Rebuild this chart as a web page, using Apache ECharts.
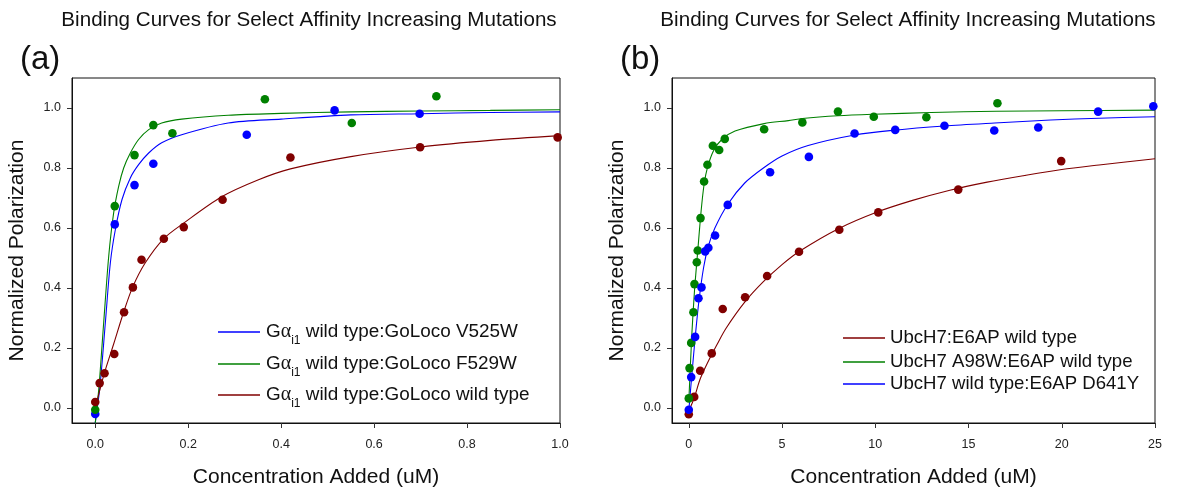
<!DOCTYPE html>
<html>
<head>
<meta charset="utf-8">
<script src="https://cdn.jsdelivr.net/npm/echarts@6/dist/echarts.min.js"></script>
<style>
html,body{margin:0;padding:0;background:#fff;}
#chart{width:1182px;height:495px;}
</style>
</head>
<body>
<div id="chart"></div>
<script>
// ---- Panel (a) data points ----
var aBlueX  = [0, 0.042, 0.0845, 0.125, 0.326, 0.515, 0.698];
var aBlueY  = [-0.02, 0.612, 0.743, 0.814, 0.911, 0.992, 0.981];
var aGreenX = [0, 0.042, 0.0845, 0.125, 0.166, 0.365, 0.552, 0.734];
var aGreenY = [-0.006, 0.673, 0.843, 0.943, 0.916, 1.029, 0.950, 1.039];
var aRedX   = [0, 0.0095, 0.0200, 0.041, 0.062, 0.081, 0.0996, 0.1476, 0.1905, 0.274, 0.420, 0.699, 0.995];
var aRedY   = [0.020, 0.083, 0.116, 0.180, 0.319, 0.402, 0.494, 0.564, 0.603, 0.694, 0.835, 0.869, 0.902];
// ---- Panel (a) fitted curves ----
var aBlueCurveX  = [0, 0.01, 0.0218, 0.0326, 0.0433, 0.0576, 0.0755, 0.0933, 0.115, 0.143, 0.186, 0.286, 0.4, 0.55, 0.7, 0.85, 1.0];
var aBlueCurveY  = [-0.05, 0.07, 0.285, 0.485, 0.595, 0.695, 0.767, 0.811, 0.850, 0.884, 0.911, 0.950, 0.963, 0.977, 0.981, 0.985, 0.987];
var aGreenCurveX = [0, 0.008, 0.0182, 0.029, 0.0397, 0.0504, 0.0612, 0.0755, 0.0933, 0.115, 0.143, 0.186, 0.286, 0.4, 0.55, 0.7, 0.85, 1.0];
var aGreenCurveY = [-0.05, 0.07, 0.285, 0.506, 0.651, 0.739, 0.800, 0.850, 0.895, 0.928, 0.950, 0.963, 0.976, 0.982, 0.987, 0.990, 0.992, 0.994];
var aRedCurveX   = [0, 0.0197, 0.04, 0.0612, 0.0805, 0.1077, 0.147, 0.191, 0.272, 0.35, 0.42, 0.55, 0.7, 0.85, 1.0];
var aRedCurveY   = [0.0, 0.116, 0.215, 0.320, 0.403, 0.484, 0.564, 0.617, 0.704, 0.760, 0.797, 0.838, 0.870, 0.892, 0.908];

// ---- Panel (b) data points ----
var bRedX   = [0, 0.29, 0.61, 1.23, 1.82, 3.02, 4.2, 5.91, 8.07, 10.16, 14.45, 19.97];
var bRedY   = [-0.021, 0.037, 0.124, 0.182, 0.330, 0.369, 0.440, 0.521, 0.594, 0.652, 0.728, 0.823];
var bGreenX = [0, 0.04, 0.13, 0.25, 0.305, 0.43, 0.48, 0.63, 0.82, 1.0, 1.29, 1.63, 1.93, 4.04, 6.09, 8.0, 9.92, 12.74, 16.55];
var bGreenY = [0.032, 0.133, 0.217, 0.319, 0.413, 0.486, 0.525, 0.633, 0.755, 0.811, 0.874, 0.860, 0.897, 0.929, 0.952, 0.988, 0.971, 0.969, 1.016];
var bBlueX  = [0, 0.13, 0.34, 0.52, 0.68, 0.88, 1.05, 1.41, 2.09, 4.36, 6.44, 8.89, 11.07, 13.71, 16.38, 18.74, 21.95, 24.91];
var bBlueY  = [-0.006, 0.103, 0.237, 0.366, 0.402, 0.522, 0.534, 0.575, 0.677, 0.786, 0.837, 0.915, 0.927, 0.941, 0.925, 0.935, 0.988, 1.006];
// ---- Panel (b) fitted curves ----
var bRedCurveX   = [0, 0.3, 0.6, 1.0, 1.5, 2, 3, 4, 5, 6, 8, 10, 12, 14, 16, 18, 20, 22, 25];
var bRedCurveY   = [-0.01, 0.035, 0.095, 0.15, 0.21, 0.266, 0.353, 0.421, 0.478, 0.525, 0.597, 0.651, 0.692, 0.726, 0.753, 0.775, 0.795, 0.81, 0.831];
var bGreenCurveX = [0, 0.16, 0.305, 0.48, 0.66, 0.82, 1.0, 1.32, 1.77, 2.48, 4.04, 5.34, 6.09, 8, 9.9, 13, 16.5, 20, 25];
var bGreenCurveY = [0.02, 0.241, 0.39, 0.523, 0.656, 0.745, 0.801, 0.857, 0.895, 0.923, 0.948, 0.958, 0.965, 0.974, 0.979, 0.985, 0.989, 0.991, 0.993];
var bBlueCurveX  = [0, 0.15, 0.35, 0.55, 0.8, 1.05, 1.4, 2.1, 3, 4, 5, 6.4, 8.9, 11, 13.7, 16.4, 19.4, 22, 25];
var bBlueCurveY  = [-0.01, 0.10, 0.24, 0.36, 0.47, 0.54, 0.60, 0.68, 0.75, 0.80, 0.84, 0.875, 0.91, 0.926, 0.94, 0.95, 0.96, 0.966, 0.971];

// ---- ticks ----
var yTicks  = [0, 0.2, 0.4, 0.6, 0.8, 1.0];
var aXTicks = [0, 0.2, 0.4, 0.6, 0.8, 1.0];
var bXTicks = [0, 5, 10, 15, 20, 25];

// ---- text ----
var chartTitle = 'Binding Curves for Select Affinity Increasing Mutations';
var xTitle = 'Concentration Added (uM)';
var yTitle = 'Normalized Polarization';
var aLegendNames = ['Gα i1 wild type:GoLoco V525W', 'Gα i1 wild type:GoLoco F529W', 'Gα i1 wild type:GoLoco wild type'];
var bLegendNames = ['UbcH7:E6AP wild type', 'UbcH7 A98W:E6AP wild type', 'UbcH7 wild type:E6AP D641Y'];

var BLUE = '#0000ff', GREEN = '#008000', RED = '#800000';
var FONT = 'Liberation Sans, Arial, sans-serif';

function zip(xs, ys) { return xs.map(function (x, i) { return [x, ys[i]]; }); }

function xAxisOf(idx, min, max, ticks, fmt) {
  return {
    type: 'value', gridIndex: idx, min: min, max: max,
    name: xTitle, nameLocation: 'middle', nameGap: 44,
    nameTextStyle: { fontFamily: FONT, fontSize: 21, color: '#111' },
    axisLine: { onZero: false, lineStyle: { color: '#111', width: 1 } },
    axisTick: { show: true, inside: false, length: 5, customValues: ticks, lineStyle: { color: '#333' } },
    axisLabel: { customValues: ticks, margin: 15, fontFamily: FONT, fontSize: 12.5, color: '#222', formatter: fmt },
    splitLine: { show: false }
  };
}
function yAxisOf(idx) {
  return {
    type: 'value', gridIndex: idx, min: -0.05, max: 1.1,
    name: yTitle, nameLocation: 'middle', nameGap: 44,
    nameTextStyle: { fontFamily: FONT, fontSize: 21, color: '#111' },
    axisLine: { onZero: false, lineStyle: { color: '#111', width: 1 } },
    axisTick: { show: true, inside: false, length: 5, customValues: yTicks, lineStyle: { color: '#333' } },
    axisLabel: { customValues: yTicks, margin: 11, fontFamily: FONT, fontSize: 12.5, color: '#222',
      formatter: function (v) { return v.toFixed(1); } },
    splitLine: { show: false }
  };
}
function curve(name, xi, xs, ys, color) {
  return { name: name, type: 'line', xAxisIndex: xi, yAxisIndex: xi, data: zip(xs, ys),
    showSymbol: false, symbol: 'none', smooth: 0.3,
    lineStyle: { color: color, width: 1.1 }, itemStyle: { color: color }, z: 2, clip: true };
}
function dots(name, xi, xs, ys, color) {
  return { name: name, type: 'scatter', xAxisIndex: xi, yAxisIndex: xi, data: zip(xs, ys),
    symbol: 'circle', symbolSize: 8.6, itemStyle: { color: color, opacity: 1 }, z: 3, clip: false };
}
function legendAt(name, left, top, rich, pad, fs) {
  var o = {
    data: [name], left: left, top: top, orient: 'vertical',
    icon: 'rect', itemWidth: 42, itemHeight: 1.5, itemGap: 0,
    selectedMode: false,
    textStyle: { fontFamily: FONT, fontSize: fs, color: '#111', padding: [0, 0, 0, pad], lineHeight: 22 }
  };
  if (rich) {
    o.formatter = function (n) {
      var rest = n.replace('Gα i1', '');
      return '{g|G}{al|α}{s|i1}{t|' + rest + '}';
    };
    o.textStyle.rich = {
      g: { fontFamily: FONT, fontSize: fs, color: '#111', lineHeight: 22, verticalAlign: 'middle' },
      al: { fontFamily: 'Liberation Serif, serif', fontSize: 20, color: '#111', lineHeight: 22, verticalAlign: 'middle' },
      s: { fontFamily: FONT, fontSize: 12, color: '#111', lineHeight: 22, verticalAlign: 'bottom', padding: [0, 0, -4, 0] },
      t: { fontFamily: FONT, fontSize: fs, color: '#111', lineHeight: 22, verticalAlign: 'middle' }
    };
  }
  return o;
}

var chart = echarts.init(document.getElementById('chart'), null, { renderer: 'canvas' });
chart.setOption({
  animation: false,
  backgroundColor: '#fff',
  textStyle: { fontFamily: FONT },
  title: [
    { text: chartTitle, left: 304, top: 5, textAlign: 'center', textStyle: { fontFamily: FONT, fontSize: 20.6, fontWeight: 'normal', color: '#111' } },
    { text: chartTitle, left: 903, top: 5, textAlign: 'center', textStyle: { fontFamily: FONT, fontSize: 20.6, fontWeight: 'normal', color: '#111' } },
    { text: '(a)', left: 15, top: 38, textStyle: { fontFamily: FONT, fontSize: 33, fontWeight: 'normal', color: '#111' } },
    { text: '(b)', left: 615, top: 38, textStyle: { fontFamily: FONT, fontSize: 33, fontWeight: 'normal', color: '#111' } }
  ],
  grid: [
    { left: 72, top: 78, width: 488, height: 345, show: true, borderColor: '#111', borderWidth: 1, backgroundColor: 'transparent' },
    { left: 672, top: 78, width: 483, height: 345, show: true, borderColor: '#111', borderWidth: 1, backgroundColor: 'transparent' }
  ],
  xAxis: [
    xAxisOf(0, -0.05, 1.0, aXTicks, function (v) { return v.toFixed(1); }),
    xAxisOf(1, -0.9, 25, bXTicks, function (v) { return String(Math.round(v)); })
  ],
  yAxis: [yAxisOf(0), yAxisOf(1)],
  legend: [
    legendAt(aLegendNames[0], 213, 316, true, 1, 18.9),
    legendAt(aLegendNames[1], 213, 348, true, 1, 18.9),
    legendAt(aLegendNames[2], 213, 379, true, 1, 18.9),
    legendAt(bLegendNames[0], 838, 322, false, 0, 18.6),
    legendAt(bLegendNames[1], 838, 346, false, 0, 18.6),
    legendAt(bLegendNames[2], 838, 368, false, 0, 18.6)
  ],
  series: [
    curve(aLegendNames[0], 0, aBlueCurveX, aBlueCurveY, BLUE),
    curve(aLegendNames[1], 0, aGreenCurveX, aGreenCurveY, GREEN),
    curve(aLegendNames[2], 0, aRedCurveX, aRedCurveY, RED),
    dots('a blue points', 0, aBlueX, aBlueY, BLUE),
    dots('a green points', 0, aGreenX, aGreenY, GREEN),
    dots('a red points', 0, aRedX, aRedY, RED),
    curve(bLegendNames[0], 1, bRedCurveX, bRedCurveY, RED),
    curve(bLegendNames[1], 1, bGreenCurveX, bGreenCurveY, GREEN),
    curve(bLegendNames[2], 1, bBlueCurveX, bBlueCurveY, BLUE),
    dots('b red points', 1, bRedX, bRedY, RED),
    dots('b green points', 1, bGreenX, bGreenY, GREEN),
    dots('b blue points', 1, bBlueX, bBlueY, BLUE)
  ]
});
</script>
</body>
</html>
